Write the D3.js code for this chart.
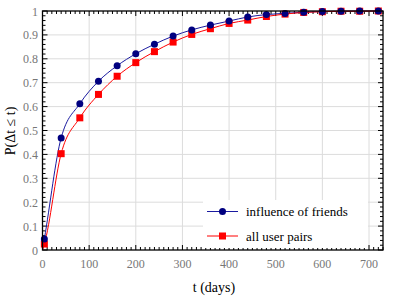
<!DOCTYPE html>
<html><head><meta charset="utf-8">
<script src="https://cdn.jsdelivr.net/npm/d3@7"></script>
<style>body{margin:0;background:#fff}svg{display:block}text{font-family:"Liberation Serif","DejaVu Serif","Times New Roman",serif}</style>
</head><body>
<script>
const days = [4,40,80,120,160,200,240,280,320,360,400,440,480,520,560,600,640,680,720];
const friends = [0.046,0.469,0.612,0.706,0.771,0.821,0.861,0.895,0.921,0.941,0.958,0.975,0.985,0.990,0.995,0.998,0.999,1.0,1.0];
const allPairs = [0.025,0.403,0.553,0.651,0.727,0.784,0.830,0.870,0.902,0.926,0.948,0.962,0.977,0.987,0.994,0.997,0.999,0.999,1.0];
const curveStart = [0,0];
const xTicks = [0,100,200,300,400,500,600,700];
const yTicks = [0,0.1,0.2,0.3,0.4,0.5,0.6,0.7,0.8,0.9,1];
const yTickLabels = ["0","0.1","0.2","0.3","0.4","0.5","0.6","0.7","0.8","0.9","1"];
const seriesNames = ["influence of friends","all user pairs"];

const W=409,H=297;
const svg=d3.select("body").append("svg").attr("width",W).attr("height",H);
const x=d3.scaleLinear().domain([0,730]).range([42.5,383]);
const y=d3.scaleLinear().domain([0,1]).range([250,11]);

const g=svg.append("g");
g.selectAll(".gx").data(xTicks.filter(d=>d>0)).join("line")
 .attr("x1",d=>x(d)).attr("x2",d=>x(d)).attr("y1",y(0)).attr("y2",y(1))
 .attr("stroke","#dcdcdc").attr("stroke-width",1);
g.selectAll(".gy").data(yTicks.filter(d=>d>0&&d<1)).join("line")
 .attr("y1",d=>y(d)).attr("y2",d=>y(d)).attr("x1",x(0)).attr("x2",x(730))
 .attr("stroke","#dcdcdc").attr("stroke-width",1);

const xMinor=d3.range(0,731,10), yMinor=d3.range(0,1.0001,0.02);
const tk=svg.append("g").attr("stroke","#000").attr("stroke-width",1);
xMinor.forEach(v=>{
  const major = v%100===0; const L= major?5:3;
  tk.append("line").attr("x1",x(v)).attr("x2",x(v)).attr("y1",y(0)).attr("y2",y(0)-L);
  tk.append("line").attr("x1",x(v)).attr("x2",x(v)).attr("y1",y(1)).attr("y2",y(1)+L);
});
yMinor.forEach(v=>{
  const major = Math.abs(v*10-Math.round(v*10))<1e-6; const L= major?5:3;
  tk.append("line").attr("y1",y(v)).attr("y2",y(v)).attr("x1",x(0)).attr("x2",x(0)+L);
  tk.append("line").attr("y1",y(v)).attr("y2",y(v)).attr("x1",x(730)).attr("x2",x(730)-L);
});

const leg=svg.append("g");
leg.append("rect").attr("x",203).attr("y",200).attr("width",165).attr("height",48).attr("fill","#fff");

const blue="#000080", red="#ff0000";
const line=d3.line().x(d=>x(d[0])).y(d=>y(d[1])).curve(d3.curveMonotoneX);
const fData=days.map((d,i)=>[d,friends[i]]), aData=days.map((d,i)=>[d,allPairs[i]]);
svg.append("path").datum([curveStart,...fData]).attr("d",line).attr("fill","none").attr("stroke","#1a1aa0").attr("stroke-width",1);
svg.append("path").datum([curveStart,...aData]).attr("d",line).attr("fill","none").attr("stroke",red).attr("stroke-width",1);
svg.selectAll(".sq").data(aData).join("rect").attr("x",d=>x(d[0])-3.5).attr("y",d=>y(d[1])-3.5)
 .attr("width",7).attr("height",7).attr("fill",red);
svg.selectAll(".ci").data(fData).join("circle").attr("cx",d=>x(d[0])).attr("cy",d=>y(d[1])).attr("r",3.5).attr("fill",blue);

svg.append("rect").attr("x",x(0)).attr("y",y(1)).attr("width",x(730)-x(0)).attr("height",y(0)-y(1))
 .attr("fill","none").attr("stroke","#000").attr("stroke-width",1.3);

[[211.5,blue,"#1a1aa0",0],[236,red,red,1]].forEach(([ly,mc,lc,i])=>{
  leg.append("line").attr("x1",207).attr("x2",238).attr("y1",ly).attr("y2",ly).attr("stroke",lc).attr("stroke-width",1);
  if(i===0) leg.append("circle").attr("cx",222.5).attr("cy",ly).attr("r",3.5).attr("fill",mc);
  else leg.append("rect").attr("x",219).attr("y",ly-3.5).attr("width",7).attr("height",7).attr("fill",mc);
  leg.append("text").attr("x",246).attr("y",ly+4.5).text(seriesNames[i]).style("font-size","13px").attr("fill","#000");
});
leg.raise();

svg.selectAll(".xl").data(xTicks).join("text").attr("x",d=>x(d)).attr("y",268).attr("text-anchor","middle")
 .style("font-size","12px").attr("fill","#777").text(d=>d);
svg.selectAll(".yl").data(yTicks).join("text").attr("x",38).attr("y",d=>y(d)+4.5).attr("text-anchor","end")
 .style("font-size","12px").attr("fill","#777").text((d,i)=>yTickLabels[i]);

svg.append("text").attr("x",214).attr("y",292).attr("text-anchor","middle").style("font-size","14px").text("t (days)");
svg.append("text").attr("transform","translate(15,131) rotate(-90)").attr("text-anchor","middle").style("font-size","14px").text("P(Δt ≤ t)");
</script>
</body></html>
